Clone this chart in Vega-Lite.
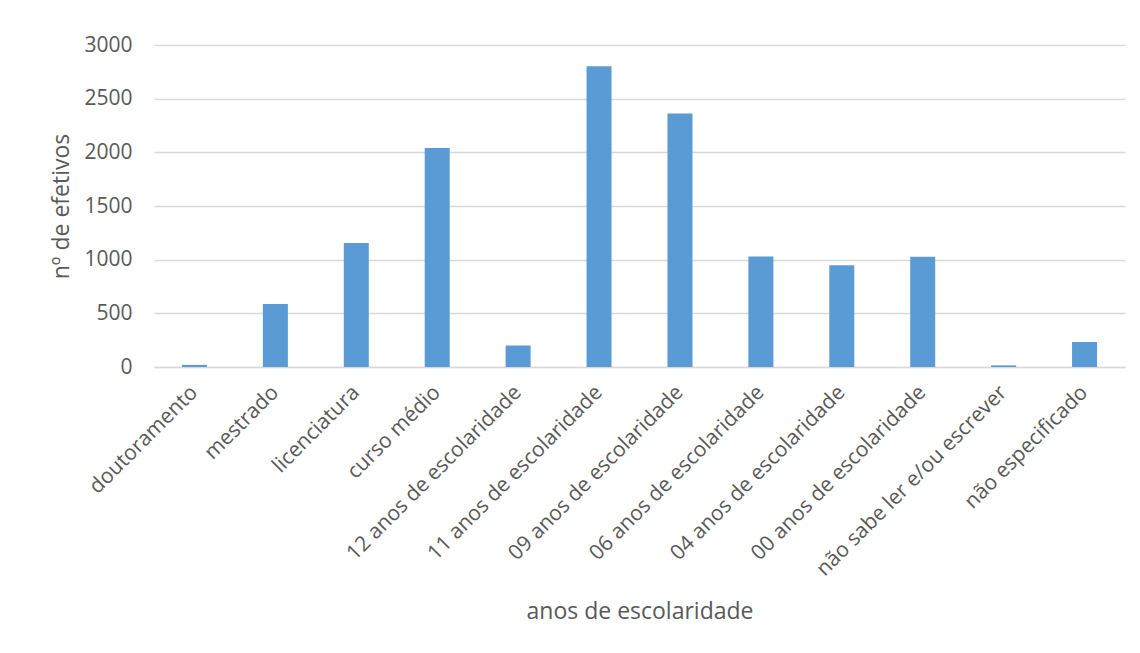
{
  "$schema": "https://vega.github.io/schema/vega-lite/v6.json",
  "autosize": {"type": "none"},
  "width": 971,
  "height": 322,
  "padding": {"left": 154, "top": 45, "right": 15, "bottom": 286},
  "background": "white",
  "config": {
    "view": {"stroke": null},
    "font": "Open Sans",
    "axis": {
      "labelColor": "#595959",
      "titleColor": "#595959",
      "labelFont": "Open Sans",
      "titleFont": "Open Sans",
      "labelFontSize": 21,
      "titleFontSize": 23,
      "titleFontWeight": "normal",
      "labelLimit": 0,
      "gridColor": "#d9d9d9",
      "gridWidth": 1.5,
      "domainColor": "#d9d9d9",
      "domainWidth": 1.5,
      "ticks": false
    }
  },
  "data": {
    "values": [
      {"escolaridade": "doutoramento", "efetivos": 20},
      {"escolaridade": "mestrado", "efetivos": 587},
      {"escolaridade": "licenciatura", "efetivos": 1155},
      {"escolaridade": "curso médio", "efetivos": 2040},
      {"escolaridade": "12 anos de escolaridade", "efetivos": 201},
      {"escolaridade": "11 anos de escolaridade", "efetivos": 2802},
      {"escolaridade": "09 anos de escolaridade", "efetivos": 2362},
      {"escolaridade": "06 anos de escolaridade", "efetivos": 1029},
      {"escolaridade": "04 anos de escolaridade", "efetivos": 949},
      {"escolaridade": "00 anos de escolaridade", "efetivos": 1028},
      {"escolaridade": "não sabe ler e/ou escrever", "efetivos": 15},
      {"escolaridade": "não especificado", "efetivos": 233}
    ]
  },
  "mark": {"type": "bar", "color": "#5b9bd5"},
  "encoding": {
    "x": {
      "field": "escolaridade",
      "type": "nominal",
      "sort": null,
      "scale": {"paddingInner": 0.691, "paddingOuter": 0.3455},
      "axis": {
        "title": "anos de escolaridade",
        "labelAngle": -45,
        "labelAlign": "right",
        "labelBaseline": "middle",
        "labelPadding": 22,
        "titleY": 244,
        "titleBaseline": "middle",
        "grid": false
      }
    },
    "y": {
      "field": "efetivos",
      "type": "quantitative",
      "scale": {"domain": [0, 3000], "nice": false},
      "axis": {
        "title": "nº de efetivos",
        "values": [0, 500, 1000, 1500, 2000, 2500, 3000],
        "format": "d",
        "labelPadding": 22,
        "domain": false,
        "titleX": -93,
        "titleBaseline": "middle"
      }
    }
  }
}
